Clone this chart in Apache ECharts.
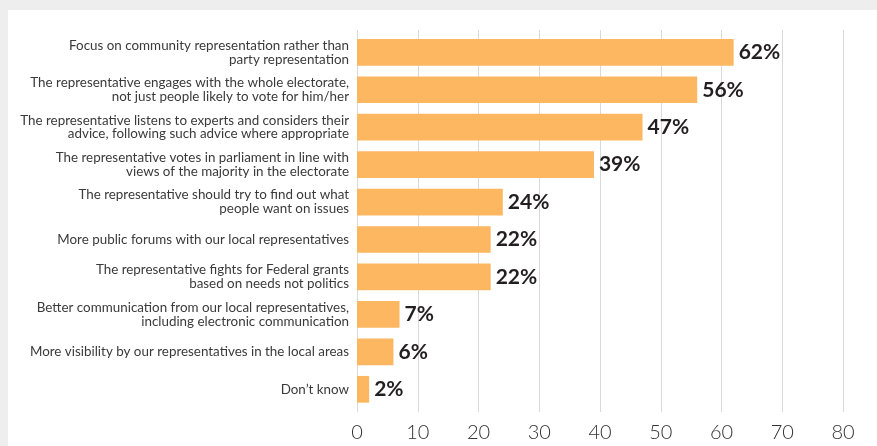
<!DOCTYPE html>
<html>
<head>
<meta charset="utf-8">
<script src="https://cdn.jsdelivr.net/npm/echarts@6/dist/echarts.min.js"></script>
<style>
html,body{margin:0;padding:0;background:#eeeeee;}
#c{width:877px;height:446px;}
</style>
</head>
<body>
<div id="c"></div>
<script>
const categories = [
  "Focus on community representation rather than\nparty representation",
  "The representative engages with the whole electorate,\nnot just people likely to vote for him/her",
  "The representative listens to experts and considers their\nadvice, following such advice where appropriate",
  "The representative votes in parliament in line with\nviews of the majority in the electorate",
  "The representative should try to find out what\npeople want on issues",
  "More public forums with our local representatives",
  "The representative fights for Federal grants\nbased on needs not politics",
  "Better communication from our local representatives,\nincluding electronic communication",
  "More visibility by our representatives in the local areas",
  "Don\u2019t know"
];
const values = [62, 56, 47, 39, 24, 22, 22, 7, 6, 2];
const xTicks = [0, 10, 20, 30, 40, 50, 60, 70, 80];

const chart = echarts.init(document.getElementById('c'), null, {renderer: 'canvas'});
const font = 'Lato, "Open Sans", sans-serif';
chart.setOption({
  backgroundColor: '#eeeeee',
  animation: false,
  graphic: [{
    type: 'rect', z: -10, silent: true,
    shape: {x: 8, y: 10, width: 869, height: 436},
    style: {fill: '#ffffff'}
  }],
  grid: [
    {left: 357, right: 34, top: 30, bottom: 34, containLabel: false},
    {left: 357, right: 34, top: 33.6, height: 374.4, containLabel: false}
  ],
  xAxis: [
    {
      gridIndex: 0, type: 'value', min: xTicks[0], max: xTicks[xTicks.length - 1], interval: 10,
      axisLine: {show: false}, axisTick: {show: false},
      splitLine: {show: true, lineStyle: {color: '#d9d9d9', width: 1}},
      axisLabel: {margin: 11, fontSize: 20, color: '#333333', fontFamily: font, fontWeight: 300,
        formatter: v => xTicks.includes(v) ? String(v) : ''}
    },
    {
      gridIndex: 1, type: 'value', min: xTicks[0], max: xTicks[xTicks.length - 1],
      show: false, splitLine: {show: false}
    }
  ],
  yAxis: [
    {gridIndex: 0, type: 'value', show: false, splitLine: {show: false}},
    {
      gridIndex: 1, type: 'category', data: categories, inverse: true,
      axisLine: {show: false}, axisTick: {show: false},
      axisLabel: {margin: 8, fontSize: 13.4, lineHeight: 13.8, color: '#3a3a3a', fontFamily: font, align: 'right'}
    }
  ],
  series: [{
    type: 'bar', xAxisIndex: 1, yAxisIndex: 1,
    data: values, barWidth: 26.7,
    itemStyle: {color: '#fdb760'},
    label: {show: true, position: 'right', distance: 5, formatter: '{c}%',
      fontSize: 21, fontWeight: 'bold', color: '#231f20', fontFamily: font}
  }]
});
</script>
</body>
</html>
